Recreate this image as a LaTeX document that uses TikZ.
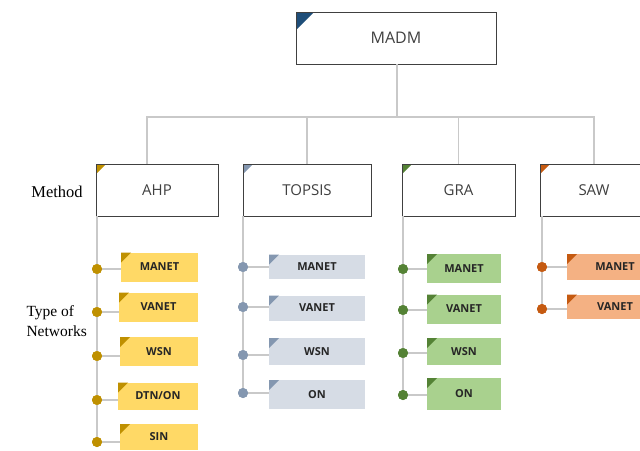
\documentclass[tikz,border=0pt]{standalone}
\usepackage{fontspec}
\setmainfont{Open Sans}
\newfontfamily\labelfont{Liberation Serif}
\definecolor{boxline}{HTML}{404040}
\definecolor{txtgrey}{HTML}{404040}
\definecolor{linegrey}{HTML}{C9C9C9}
\definecolor{madmflag}{HTML}{1F4E79}
\definecolor{ahpfill}{HTML}{FFD966}
\definecolor{ahpdark}{HTML}{BF9000}
\definecolor{topfill}{HTML}{D6DCE5}
\definecolor{topdark}{HTML}{8497B0}
\definecolor{grafill}{HTML}{A9D18E}
\definecolor{gradark}{HTML}{548235}
\definecolor{sawfill}{HTML}{F4B183}
\definecolor{sawdark}{HTML}{C55A11}

\begin{document}
\begin{tikzpicture}[x=1pt,y=-1pt,
  flag/.style 2 args={path picture={\fill[#1] (path picture bounding box.north west) -- ++(#2,0pt) -- ++(-#2,-#2) -- cycle;}},
  methodbox/.style={draw=boxline, line width=0.8pt, fill=white, minimum height=52pt, inner sep=0pt,
    text=txtgrey, font=\fontsize{15}{17}\selectfont, flag={#1}{10pt}},
  netbox/.style 2 args={fill=#1, minimum height=29pt, inner sep=0pt, text=black!85,
    font=\fontsize{11}{13}\selectfont\bfseries, flag={#2}{10pt}},
  dot/.style={circle, fill=#1, inner sep=0pt, minimum size=10pt},
  link/.style={draw=linegrey, line width=1.5pt}]
  \clip (0,0) rectangle (640,450);
  \fill[white] (0,0) rectangle (640,450);

  % top level
  \node[draw=boxline, line width=0.8pt, fill=white, minimum width=200pt, minimum height=52pt,
    text=txtgrey, font=\fontsize{16}{18}\selectfont, flag={madmflag}{18pt}] (madm) at (396,38) {MADM};
  \coordinate (hub) at (397,117);

  % methods
  \node[methodbox=ahpdark, minimum width=122pt] (ahp) at (157,190) {AHP};
  \node[methodbox=topdark, minimum width=128pt] (topsis) at (307,190) {TOPSIS};
  \node[methodbox=gradark, minimum width=113pt] (gra) at (458.5,190) {GRA};
  \node[methodbox=sawdark, minimum width=108pt] (saw) at (594,190) {SAW};

  \draw[link] (madm.south -| hub) -- (hub);
  \draw[link] ([xshift=-10pt]ahp.north) |- (hub);
  \draw[link] (topsis.north) |- (hub);
  \draw[link] (gra.north) |- (hub);
  \draw[link] (saw.north) |- (hub);

  % row labels
  \node[font=\labelfont\fontsize{16.5}{18}\selectfont] (lblmethod) at (57,192) {Method};
  \node[font=\labelfont\fontsize{15.5}{20}\selectfont, align=left, anchor=west] (lblnet) at (23,321) {Type of\\Networks};

  % AHP networks
  \node[netbox={ahpfill}{ahpdark}, minimum width=77pt] (a1) at (159.5,267) {MANET};
  \node[netbox={ahpfill}{ahpdark}, minimum width=79pt] (a2) at (158.5,307) {VANET};
  \node[netbox={ahpfill}{ahpdark}, minimum width=78pt] (a3) at (159,351.5) {WSN};
  \node[netbox={ahpfill}{ahpdark}, minimum width=80pt, minimum height=27pt] (a4) at (158,396) {DTN/ON};
  \node[netbox={ahpfill}{ahpdark}, minimum width=78pt, minimum height=26pt] (a5) at (159,437) {SIN};
  \node[dot=ahpdark] (a1d) at (97,269) {};
  \node[dot=ahpdark] (a2d) at (97,312) {};
  \node[dot=ahpdark] (a3d) at (97,356) {};
  \node[dot=ahpdark] (a4d) at (97,400) {};
  \node[dot=ahpdark] (a5d) at (97,442) {};

  % TOPSIS networks
  \node[netbox={topfill}{topdark}, minimum width=96pt, minimum height=24pt] (t1) at (317,266.5) {MANET};
  \node[netbox={topfill}{topdark}, minimum width=96pt, minimum height=25pt] (t2) at (317,308) {VANET};
  \node[netbox={topfill}{topdark}, minimum width=96pt, minimum height=27pt] (t3) at (317,351.5) {WSN};
  \node[netbox={topfill}{topdark}, minimum width=96pt] (t4) at (317,394.5) {ON};
  \node[dot=topdark] (t1d) at (243,267) {};
  \node[dot=topdark] (t2d) at (243,307) {};
  \node[dot=topdark] (t3d) at (243,355) {};
  \node[dot=topdark] (t4d) at (243,393) {};

  % GRA networks
  \node[netbox={grafill}{gradark}, minimum width=74pt] (g1) at (464,268.5) {MANET};
  \node[netbox={grafill}{gradark}, minimum width=74pt] (g2) at (464,309) {VANET};
  \node[netbox={grafill}{gradark}, minimum width=74pt, minimum height=27pt] (g3) at (464,351.5) {WSN};
  \node[netbox={grafill}{gradark}, minimum width=74pt, minimum height=32pt] (g4) at (464,394) {ON};
  \node[dot=gradark] (g1d) at (403,269) {};
  \node[dot=gradark] (g2d) at (403,310) {};
  \node[dot=gradark] (g3d) at (403,353) {};
  \node[dot=gradark] (g4d) at (403,395) {};

  % SAW networks
  \node[netbox={sawfill}{sawdark}, minimum width=96pt, minimum height=26pt] (s1) at (615,267) {MANET};
  \node[netbox={sawfill}{sawdark}, minimum width=96pt, minimum height=24pt] (s2) at (615,306.5) {VANET};
  \node[dot=sawdark] (s1d) at (542,267) {};
  \node[dot=sawdark] (s2d) at (542,309) {};

  % spines
  \draw[link] (a1d |- ahp.south) -- (a5d);
  \draw[link] (t1d |- topsis.south) -- (t4d);
  \draw[link] (g1d |- gra.south) -- (g4d);
  \draw[link] (s1d |- saw.south) -- (s2d);

  % branches
  \draw[link] (a1d) -- (a1d -| a1.west);
  \draw[link] (a2d) -- (a2d -| a2.west);
  \draw[link] (a3d) -- (a3d -| a3.west);
  \draw[link] (a4d) -- (a4d -| a4.west);
  \draw[link] (a5d) -- (a5d -| a5.west);
  \draw[link] (t1d) -- (t1d -| t1.west);
  \draw[link] (t2d) -- (t2d -| t2.west);
  \draw[link] (t3d) -- (t3d -| t3.west);
  \draw[link] (t4d) -- (t4d -| t4.west);
  \draw[link] (g1d) -- (g1d -| g1.west);
  \draw[link] (g2d) -- (g2d -| g2.west);
  \draw[link] (g3d) -- (g3d -| g3.west);
  \draw[link] (g4d) -- (g4d -| g4.west);
  \draw[link] (s1d) -- (s1d -| s1.west);
  \draw[link] (s2d) -- (s2d -| s2.west);

  % dots back on top of the lines
  \foreach \d/\c in {a1d/ahpdark,a2d/ahpdark,a3d/ahpdark,a4d/ahpdark,a5d/ahpdark,
                     t1d/topdark,t2d/topdark,t3d/topdark,t4d/topdark,
                     g1d/gradark,g2d/gradark,g3d/gradark,g4d/gradark,
                     s1d/sawdark,s2d/sawdark}
    \fill[\c] (\d) circle (5pt);
\end{tikzpicture}
\end{document}
